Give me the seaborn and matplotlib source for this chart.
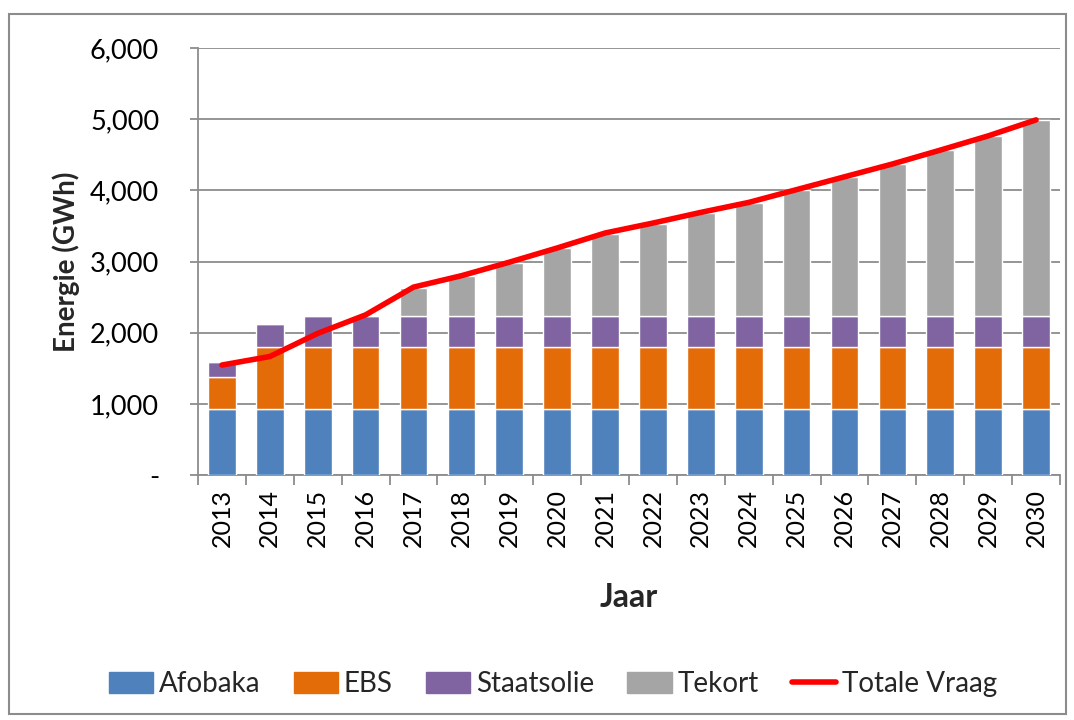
import numpy as np
import matplotlib
matplotlib.use("Agg")
import matplotlib.pyplot as plt
import matplotlib.patches as mpatches
from matplotlib.lines import Line2D
import seaborn as sns

sns.set_style("white")
plt.rcParams['font.family'] = ['Lato', 'DejaVu Sans']

years = [str(y) for y in range(2013, 2031)]
afobaka = [925, 925, 925, 925, 925, 925, 925, 925, 925, 925, 925, 925, 925, 925, 925, 925, 925, 925]
ebs = [450, 875, 875, 875, 875, 875, 875, 875, 875, 875, 875, 875, 875, 875, 875, 875, 875, 875]
staatsolie = [215, 320, 440, 440, 440, 440, 440, 440, 440, 440, 440, 440, 440, 440, 440, 440, 440, 440]
tekort = [0, 0, 0, 0, 390, 555, 745, 950, 1150, 1290, 1440, 1575, 1765, 1950, 2130, 2325, 2520, 2745]
totale_vraag = [1545, 1665, 1990, 2250, 2640, 2800, 2990, 3190, 3400, 3540, 3690, 3830, 4010, 4190, 4370, 4565, 4765, 4990]

colors = {"Afobaka": "#4F81BD", "EBS": "#E36C09", "Staatsolie": "#8064A2",
          "Tekort": "#A5A5A5", "Totale Vraag": "#FF0000"}

fig = plt.figure(figsize=(10.74, 7.2), dpi=100)
ax = fig.add_axes([198 / 1074, 1 - 475 / 720, (1060 - 198) / 1074, (475 - 48) / 720])

bottom = np.zeros(len(years))
for name, vals in [("Afobaka", afobaka), ("EBS", ebs), ("Staatsolie", staatsolie), ("Tekort", tekort)]:
    sns.barplot(x=years, y=vals, bottom=bottom, color=colors[name], width=0.58,
                saturation=1, ax=ax, zorder=3)
    bottom = bottom + np.array(vals)

ax.plot(np.arange(len(years)), totale_vraag, color=colors["Totale Vraag"], lw=4,
        solid_capstyle="round", zorder=4)

ax.set_ylim(0, 6000)
ax.set_xlim(-0.5, len(years) - 0.5)
ax.set_yticks(range(0, 6001, 1000))
ax.set_yticklabels(["-" if v == 0 else f"{v:,}" for v in range(0, 6001, 1000)])
ax.yaxis.grid(True, color="#8C8C8C", lw=1.3, zorder=0)
ax.set_axisbelow(True)

for s in ["top", "right"]:
    ax.spines[s].set_visible(False)
for s in ["left", "bottom"]:
    ax.spines[s].set_color("#8C8C8C")
    ax.spines[s].set_linewidth(1.3)

ax.tick_params(axis="y", which="major", length=6, width=1.3, color="#8C8C8C",
               direction="out", left=True, pad=22, labelsize=19.5, labelcolor="black")
ax.set_xticks(np.arange(len(years)))
ax.set_xticklabels(years, rotation=90)
ax.tick_params(axis="x", which="major", length=0, pad=10, labelsize=18, labelcolor="black")
ax.set_xticks(np.arange(len(years) + 1) - 0.5, minor=True)
ax.tick_params(axis="x", which="minor", length=7, width=1.3, color="#8C8C8C",
               direction="out", bottom=True)

ax.set_ylabel("Energie (GWh)", fontsize=20, fontweight="bold", labelpad=7)
ax.set_xlabel("Jaar", fontsize=23, fontweight="bold", labelpad=26)

handles = [mpatches.Patch(color=colors[n], label=n) for n in ["Afobaka", "EBS", "Staatsolie", "Tekort"]]
handles.append(Line2D([0], [0], color=colors["Totale Vraag"], lw=4, label="Totale Vraag"))
fig.legend(handles=handles, loc="center", bbox_to_anchor=(553 / 1074, 1 - 684 / 720),
           ncol=5, frameon=False, fontsize=20, handlelength=1.6, handleheight=0.8,
           handletextpad=0.2, columnspacing=1.2)

fig.patches.append(mpatches.Rectangle((9 / 1074, 1 - 714 / 720), (1066 - 9) / 1074, (714 - 14) / 720,
                                      transform=fig.transFigure, fill=False,
                                      edgecolor="#8C8C8C", lw=1.5))

fig.savefig("out.png", dpi=100)
